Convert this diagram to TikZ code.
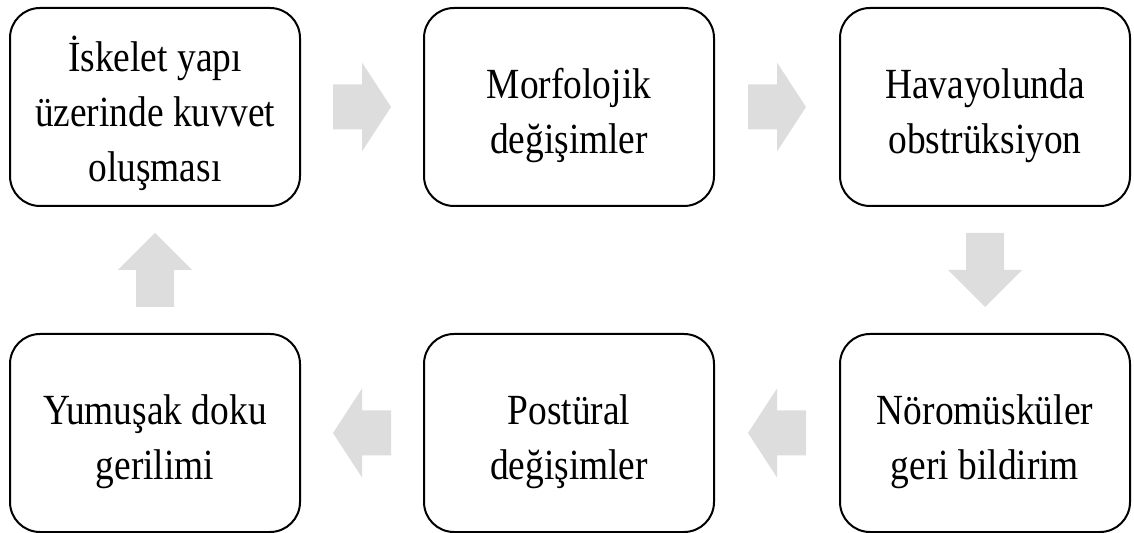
\documentclass[tikz,border=0pt]{standalone}
\usepackage{fontspec}
\setmainfont{Liberation Serif}[FakeStretch=0.87]
\usepackage{tikz}
\usetikzlibrary{positioning, calc}
\definecolor{arrowgray}{HTML}{DDDDDD}
\newcommand{\topstrut}{\rule{0pt}{27.5pt}}
\tikzset{
  stepbox/.style={draw, line width=1pt, rounded corners=15pt, minimum width=145pt, minimum height=99pt, align=center, font=\fontsize{21.5}{27.5}\selectfont},
  flatarrow/.pic={\fill[arrowgray] (-29,-22.5) -- (0,-22.5) -- (0,-44.5) -- (29,0) -- (0,44.5) -- (0,22.5) -- (-29,22.5) -- cycle;},
  tallarrow/.pic={\fill[arrowgray] (-37,-19) -- (0,-19) -- (0,-37) -- (37,0) -- (0,37) -- (0,19) -- (-37,19) -- cycle;}
}

\begin{document}
\begin{tikzpicture}[x=0.5pt, y=-0.5pt]
\useasboundingbox (0,0) rectangle (1134,533);
\node[stepbox] (skel) at (155,107) {\topstrut İskelet yapı\\üzerinde kuvvet\\oluşması\strut};
\node[stepbox, right=61pt of skel] (morf) {\topstrut Morfolojik\\değişimler\strut};
\node[stepbox, right=62pt of morf] (airw) {\topstrut Havayolunda\\obstrüksiyon\strut};
\node[stepbox, below=63pt of airw] (neuro) {\topstrut Nöromüsküler\\geri bildirim\strut};
\node[stepbox, left=62pt of neuro] (post) {\topstrut Postüral\\değişimler\strut};
\node[stepbox, left=61pt of post] (soft) {\topstrut Yumuşak doku\\gerilimi\strut};

\pic at ($(skel.east)!0.5!(morf.west)$) {flatarrow};
\pic at ($(morf.east)!0.5!(airw.west)$) {flatarrow};
\pic[rotate=-90] at ($(airw.south)!0.5!(neuro.north)$) {tallarrow};
\pic[rotate=180] at ($(neuro.west)!0.5!(post.east)$) {flatarrow};
\pic[rotate=180] at ($(post.west)!0.5!(soft.east)$) {flatarrow};
\pic[rotate=90] at ($(soft.north)!0.5!(skel.south)$) {tallarrow};
\end{tikzpicture}
\end{document}
